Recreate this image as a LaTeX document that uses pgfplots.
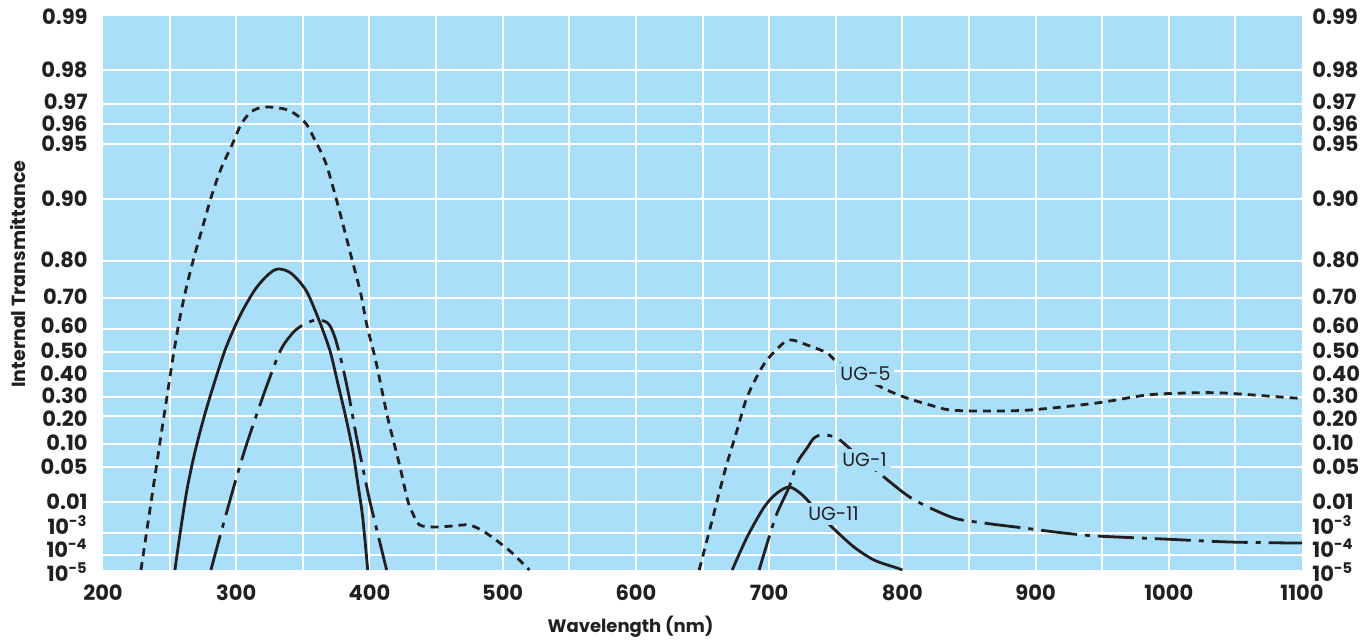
\documentclass[border=0pt]{standalone}
\usepackage{fontspec}
\setmainfont{Poppins}
\usepackage{pgfplots}
\pgfplotsset{compat=1.18}
\definecolor{bgblue}{RGB}{169,223,249}
\definecolor{ink}{RGB}{35,31,32}
\newcommand{\tl}{\fontsize{10.5}{12}\selectfont\bfseries}
\newcommand{\ssup}[1]{\smash{\textsuperscript{#1}}}
\begin{document}
\begin{tikzpicture}
\useasboundingbox (-51.5pt,-34.5pt) rectangle (633.5pt,285pt);
\pgfplotsset{
  common/.style={
    scale only axis, width=599.5pt, height=277pt,
    xmin=200, xmax=1100, ymin=0, ymax=554,
    ytick={20,43,68,103,127,151,174,196,219,244,273,310,371,426,446,468,500,553},
    yticklabels={10\ssup{-4},10\ssup{-3},0.01,0.05,0.10,0.20,0.30,0.40,0.50,0.60,0.70,0.80,0.90,0.95,0.96,0.97,0.98,0.99},
    extra y ticks={0},
    extra y tick labels={10\ssup{-5}},
    extra y tick style={yticklabel style={yshift=-2pt}},
    major tick length=0pt, minor tick length=0pt,
    yticklabel style={font=\tl, text=ink, inner sep=0pt},
  }
}
\begin{axis}[common,
  axis line style={draw=none},
  axis background/.style={fill=bgblue},
  xtick={200,300,...,1100},
  xticklabels={200,300,400,500,600,700,800,900,1000,1100},
  xticklabel style={font=\tl, text=ink, anchor=center, yshift=-11.5pt},
  minor xtick={250,300,...,1050},
  minor ytick={15,37,68,103,126,154,173,199,218,241,272,309,371,426,446,466,500},
  xminorgrids=true, yminorgrids=true,
  xmajorgrids=false, ymajorgrids=false,
  minor grid style={white, line width=1pt},
  yticklabel style={anchor=east, xshift=-7.5pt},
  every axis y label/.style={at={(axis description cs:-0.0709,0.534)}, rotate=90, anchor=center, font=\fontsize{9.5}{12}\selectfont\bfseries, text=ink},
  every axis x label/.style={at={(axis description cs:0.44,-0.1029)}, anchor=center, font=\fontsize{9}{12}\selectfont\bfseries, text=ink},
  ylabel={Internal Transmittance},
  xlabel={Wavelength (nm)},
]
% UG-5 left
\addplot[ink, line width=1.4pt, dash pattern=on 4pt off 3pt, smooth] coordinates {
(228.5,0)(242.7,127)(248,173)(253.2,218)(257.7,252)(263,285)(269,316)(275,344)(281,372)(288.5,401)(297.5,427)(303.4,445)(311,458)(321.4,463)(338.7,460)(351.4,448)(359,430)(367.2,407)(374.7,373)(381.4,339)(387.4,308)(393.4,277)(398.2,244)(404.6,210)(413.6,153)(422.6,105)(428.6,70)(432.4,57)(437.6,45)(449.6,43)(462.4,44)(475.1,45)(486.4,38)(499.9,25)(508.8,15)(520,0)
};
% UG-5 right
\addplot[ink, line width=1.4pt, dash pattern=on 4pt off 3pt, smooth] coordinates {
(647.5,0)(657.3,50)(667,100)(676,140)(683.5,173)(694.8,203)(703.7,218)(715,230)(728.5,225)(743.5,217)(751,208)(769.7,193)(788.5,180)(803.4,172)(820.7,165)(835.7,160)(861.2,159)(895.7,160)(945.9,167)(983.4,175)(1013.3,177)(1041.1,177)(1094.3,172)(1100,172)
};
% UG-1 left
\addplot[ink, line width=1.4pt, dash pattern=on 18pt off 4pt on 2.5pt off 4pt, smooth] coordinates {
(281,0)(288.5,37)(299,87)(306.4,120)(314.7,153)(323.7,187)(333.4,220)(342.4,237)(350,245)(359.7,250)(368.7,247)(374,233)(380,203)(385.2,170)(389.7,137)(394.9,103)(400.1,70)(406.1,37)(412.9,0)
};
% UG-1 right
\addplot[ink, line width=1.4pt, dash pattern=on 18pt off 4pt on 2.5pt off 4pt, smooth] coordinates {
(692.5,0)(700,33)(706,57)(715,83)(721,107)(728.5,122)(733.7,132)(739.7,135)(751,132)(766,115)(786.2,93)(801.2,77)(813.2,67)(838.7,52)(861.2,47)(891.2,42)(921.1,37)(945.9,34)(996.1,31)(1045.6,28)(1093.6,27)(1100,27)
};
% UG-11 left
\addplot[ink, line width=1.4pt, smooth] coordinates {
(254,0)(257.7,35)(263,80)(269,118)(276.5,156)(284,189)(292.2,222)(302.7,254)(313.9,280)(323.7,295)(331.2,301)(340.9,297)(352.2,280)(361.2,253)(370.2,220)(376.2,187)(382.2,153)(387.4,120)(391.2,87)(394.9,53)(398.7,0)
};
% UG-11 right
\addplot[ink, line width=1.4pt, smooth] coordinates {
(672.3,0)(683.5,33)(696.3,63)(706,77)(715,83)(723.2,77)(730.7,67)(739.7,53)(749.5,40)(763.7,23)(778.7,10)(796,2)(800,0)
};
\node[fill=bgblue, inner sep=2pt, text=ink, font=\fontsize{9.5}{10}\selectfont] at (axis cs:772.3,196) {UG-5};
\node[fill=bgblue, inner sep=2pt, text=ink, font=\fontsize{9.5}{10}\selectfont] at (axis cs:771.6,110) {UG-1};
\node[fill=bgblue, inner sep=2pt, text=ink, font=\fontsize{9.5}{10}\selectfont] at (axis cs:748.3,56) {UG-11};
\end{axis}
\begin{axis}[common,
  hide x axis,
  axis y line*=right,
  y axis line style={draw=none},
  yticklabel style={anchor=west, xshift=5pt},
]
\end{axis}
\end{tikzpicture}
\end{document}
